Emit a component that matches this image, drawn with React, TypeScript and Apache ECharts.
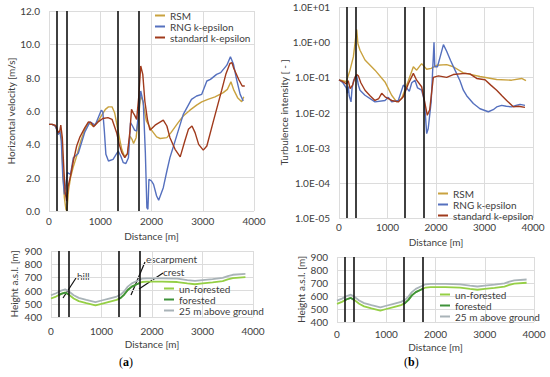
import React, { useEffect, useRef } from "react";
import * as echarts from "echarts";

// ---------- data ----------
const vLines = [150, 350, 1350, 1750];

const velRSM: [number, number][] = [
  [0, 5.2], [60, 5.2], [120, 5.1], [150, 4.9], [180, 4.6], [210, 4.8], [240, 4.5], [270, 2.5], [300, 0.8], [330, 0.1], [350, 0.0], [380, 1.2], [420, 2.0], [470, 2.6], [540, 3.3], [620, 4.2], [700, 4.9], [770, 5.3], [860, 5.1], [940, 5.3], [1030, 5.75], [1100, 6.1], [1160, 6.25], [1230, 6.25], [1280, 5.9], [1330, 5.1], [1380, 4.3], [1420, 3.7], [1470, 3.3], [1530, 3.4], [1580, 4.5], [1620, 4.3], [1650, 4.05], [1700, 4.4], [1740, 5.5], [1790, 6.9], [1830, 6.6], [1900, 5.4], [2000, 4.85], [2100, 4.45], [2170, 4.35], [2300, 4.4], [2380, 4.7], [2520, 5.3], [2620, 5.7], [2750, 6.05], [2880, 6.35], [2980, 6.55], [3100, 6.7], [3240, 6.85], [3400, 7.1], [3480, 7.3], [3550, 7.75], [3600, 7.3], [3680, 6.8], [3760, 6.55], [3800, 6.85],
];
const velRNG: [number, number][] = [
  [0, 5.2], [60, 5.2], [120, 5.1], [150, 4.9], [180, 4.6], [210, 4.8], [240, 4.2], [270, 2.0], [300, 1.0], [330, 1.6], [360, 2.3], [420, 2.2], [475, 3.2], [570, 3.45], [700, 4.75], [800, 5.35], [900, 5.15], [960, 5.6], [1020, 6.05], [1050, 5.95], [1080, 4.8], [1110, 3.4], [1160, 3.0], [1250, 3.1], [1350, 3.6], [1400, 3.3], [1450, 2.9], [1500, 2.85], [1550, 3.2], [1590, 5.3], [1630, 5.1], [1670, 4.85], [1710, 4.8], [1750, 6.0], [1790, 7.2], [1840, 6.5], [1880, 3.5], [1910, 0.2], [1930, 0.1], [1950, 1.9], [2000, 1.8], [2040, 1.6], [2100, 0.9], [2140, 0.65], [2230, 1.4], [2300, 2.4], [2360, 3.2], [2430, 3.9], [2500, 4.6], [2620, 5.8], [2780, 6.7], [2880, 6.9], [2980, 7.0], [3080, 7.8], [3150, 7.9], [3270, 8.2], [3350, 8.3], [3470, 8.75], [3540, 9.25], [3600, 8.8], [3660, 7.9], [3730, 7.0], [3790, 6.6],
];
const velStd: [number, number][] = [
  [0, 5.2], [60, 5.2], [120, 5.15], [150, 5.0], [180, 4.7], [210, 4.8], [230, 5.15], [260, 4.4], [290, 2.5], [315, 1.1], [345, 0.6], [375, 1.5], [420, 2.1], [475, 3.0], [540, 3.9], [605, 4.45], [700, 5.0], [770, 5.35], [820, 5.3], [870, 5.05], [960, 5.35], [1050, 5.55], [1150, 5.6], [1230, 5.5], [1320, 4.7], [1370, 4.0], [1420, 3.5], [1480, 3.2], [1530, 3.45], [1580, 4.8], [1610, 6.1], [1640, 5.9], [1670, 5.75], [1710, 5.5], [1750, 6.8], [1790, 8.7], [1830, 8.2], [1870, 6.6], [1920, 5.5], [1970, 4.85], [2070, 5.15], [2230, 5.45], [2300, 5.1], [2360, 4.4], [2460, 3.7], [2560, 3.25], [2650, 4.2], [2720, 4.9], [2790, 5.1], [2850, 4.7], [2920, 4.0], [3010, 3.65], [3080, 3.9], [3200, 5.3], [3370, 7.25], [3450, 8.2], [3530, 8.85], [3570, 8.9], [3600, 8.6], [3700, 7.9], [3770, 7.5], [3820, 7.5],
];

const tiRSM: [number, number][] = [
  [0, 0.085], [80, 0.08], [150, 0.075], [227, 0.16], [296, 0.38], [340, 1.2], [365, 2.3], [390, 0.9], [433, 0.59], [536, 0.31], [742, 0.16], [948, 0.074], [1086, 0.031], [1189, 0.02], [1292, 0.025], [1430, 0.08], [1533, 0.2], [1601, 0.16], [1704, 0.245], [1808, 0.17], [1900, 0.18], [2014, 0.22], [2220, 0.23], [2357, 0.2], [2564, 0.134], [2907, 0.106], [3251, 0.087], [3560, 0.083], [3766, 0.093], [3855, 0.08],
];
const tiRNG: [number, number][] = [
  [0, 0.085], [80, 0.07], [150, 0.05], [170, 0.035], [193, 0.055], [210, 0.03], [248, 0.02], [270, 0.05], [300, 0.08], [330, 0.1], [365, 0.11], [400, 0.06], [433, 0.043], [536, 0.031], [742, 0.02], [948, 0.022], [1017, 0.027], [1086, 0.02], [1223, 0.022], [1326, 0.06], [1395, 0.05], [1450, 0.04], [1500, 0.07], [1567, 0.083], [1620, 0.05], [1704, 0.043], [1760, 0.022], [1808, 0.0025], [1840, 0.0035], [1900, 0.02], [1935, 0.2], [1959, 1.0], [1975, 0.2], [2030, 0.2], [2090, 0.4], [2153, 0.85], [2220, 0.55], [2300, 0.3], [2392, 0.16], [2494, 0.08], [2564, 0.043], [2632, 0.03], [2770, 0.018], [2907, 0.0128], [3079, 0.0105], [3180, 0.012], [3251, 0.0144], [3354, 0.016], [3450, 0.015], [3560, 0.0145], [3650, 0.016], [3732, 0.017], [3835, 0.016],
];
const tiStd: [number, number][] = [
  [0, 0.085], [80, 0.075], [150, 0.065], [190, 0.08], [230, 0.048], [280, 0.06], [330, 0.1], [365, 0.12], [400, 0.11], [450, 0.07], [536, 0.043], [640, 0.03], [742, 0.022], [820, 0.025], [880, 0.035], [950, 0.028], [1086, 0.022], [1223, 0.02], [1326, 0.028], [1430, 0.066], [1533, 0.13], [1601, 0.083], [1704, 0.054], [1773, 0.018], [1821, 0.0083], [1870, 0.012], [1945, 0.1], [2050, 0.11], [2220, 0.1], [2357, 0.12], [2598, 0.13], [2700, 0.125], [2839, 0.093], [3010, 0.085], [3130, 0.06], [3251, 0.043], [3360, 0.03], [3457, 0.022], [3594, 0.0145], [3700, 0.015], [3835, 0.014],
];

const hUnforested: [number, number][] = [
  [0, 540], [100, 555], [200, 575], [280, 585], [350, 570], [450, 540], [550, 520], [700, 505], [880, 488], [1000, 500], [1150, 515], [1300, 530], [1380, 545], [1450, 570], [1520, 605], [1600, 630], [1700, 648], [1800, 665], [1900, 668], [2200, 668], [2500, 665], [2700, 655], [2850, 648], [3000, 655], [3200, 662], [3400, 672], [3500, 685], [3600, 695], [3850, 702],
];
const hForested: ([number, number] | null)[] = [
  [150, 565], [200, 575], [280, 585], [350, 570], null,
  [1350, 538], [1380, 545], [1450, 570], [1520, 605], [1600, 630], [1700, 648], [1750, 657],
];
const h25m: [number, number][] = [
  [0, 565], [100, 580], [200, 600], [280, 610], [350, 595], [450, 565], [550, 545], [700, 530], [880, 513], [1000, 525], [1150, 540], [1300, 555], [1380, 570], [1450, 595], [1520, 630], [1600, 655], [1700, 673], [1800, 690], [1900, 693], [2200, 693], [2500, 690], [2700, 680], [2850, 673], [3000, 680], [3200, 687], [3400, 697], [3500, 710], [3600, 720], [3850, 727],
];

const modelNames = ["RSM", "RNG k-epsilon", "standard k-epsilon"];
const terrainNames = ["un-forested", "forested", "25 m above ground"];

// ---------- styles ----------
const FONT = "Lato";
const C_RSM = "#C9A23F";
const C_RNG = "#5570BE";
const C_STD = "#A03A1C";
const C_UNF = "#95CF45";
const C_FOR = "#3E923A";
const C_25 = "#A9B3B8";
const TXT = "#404040";
const GRID = "#DCDCDC";

function xAx(gridIndex: number, labelMargin: number, nameGap: number) {
  return {
    type: "value", gridIndex, min: 0, max: 4000, interval: 1000,
    axisLine: { show: false }, axisTick: { show: false },
    splitLine: { show: true, lineStyle: { color: GRID, width: 1 } },
    axisLabel: { color: TXT, fontSize: 10, fontFamily: FONT, margin: labelMargin, formatter: (v: number) => String(v) },
    name: "Distance [m]", nameLocation: "middle", nameGap,
    nameTextStyle: { color: TXT, fontSize: 10, fontFamily: FONT },
  };
}

function yAx(gridIndex: number, name: string, nameGap: number, extra: any) {
  return {
    gridIndex,
    axisLine: { show: false }, axisTick: { show: false },
    splitLine: { show: true, lineStyle: { color: GRID, width: 1 } },
    name, nameLocation: "middle", nameGap,
    nameTextStyle: { color: TXT, fontSize: 10, fontFamily: FONT },
    ...extra,
    axisLabel: { color: TXT, fontSize: 10, fontFamily: FONT, margin: 9, formatter: (v: number) => String(v), ...(extra.axisLabel || {}) },
  };
}

const markV = {
  silent: true, symbol: "none", label: { show: false },
  lineStyle: { color: "#111", width: 1.6, type: "solid" },
  data: vLines.map((x) => ({ xAxis: x })),
};

function line(name: string, color: string, data: any, xi: number, yi: number, withMark = false, width = 1.4) {
  const s: any = {
    type: "line", name, data, xAxisIndex: xi, yAxisIndex: yi,
    showSymbol: false, symbol: "none", connectNulls: false,
    lineStyle: { color, width }, itemStyle: { color },
  };
  if (withMark) s.markLine = markV;
  return s;
}

function legend(names: string[], left: number, top: number) {
  return {
    orient: "vertical", left, top, data: names, icon: "rect",
    itemWidth: 10, itemHeight: 2, itemGap: 0, padding: 0,
    selectedMode: false,
    textStyle: { color: TXT, fontSize: 10, fontFamily: FONT, lineHeight: 11 },
  };
}

function sciFmt(v: number) {
  const e = Math.round(Math.log10(v));
  return "1.0E" + (e >= 0 ? "+" : "-") + String(Math.abs(e)).padStart(2, "0");
}

export default function App() {
  const ref = useRef<HTMLDivElement>(null);
  useEffect(() => {
    if (!ref.current) return;
    const chart = echarts.init(ref.current, undefined, { renderer: "svg" });
    const option: any = {
      animation: false,
      backgroundColor: "#fff",
      textStyle: { fontFamily: FONT },
      grid: [
        { left: 49, top: 11, width: 205, height: 200 },
        { left: 339, top: 7, width: 194, height: 211 },
        { left: 51, top: 251, width: 202, height: 66 },
        { left: 337, top: 257, width: 197, height: 65 },
      ],
      xAxis: [xAx(0, 5, 17), xAx(1, 4, 12), xAx(2, 9, 22), xAx(3, 7, 20)],
      yAxis: [
        yAx(0, "Horizontal velocity [m/s]", 29, { type: "value", min: 0, max: 12, interval: 2, axisLabel: { formatter: (v: number) => v.toFixed(1) } }),
        yAx(1, "Turbulence intensity [ - ]", 44, { type: "log", logBase: 10, min: 1e-5, max: 10, axisLabel: { formatter: sciFmt } }),
        yAx(2, "Height a.s.l. [m]", 32, { type: "value", min: 400, max: 900, interval: 100 }),
        yAx(3, "Height a.s.l. [m]", 31, { type: "value", min: 400, max: 900, interval: 100 }),
      ],
      legend: [
        legend(modelNames, 155, 10),
        legend(modelNames, 438, 188),
        legend(terrainNames, 164, 283),
        legend(terrainNames, 440, 289),
      ],
      series: [
        line("RSM", C_RSM, velRSM, 0, 0, true),
        line("RNG k-epsilon", C_RNG, velRNG, 0, 0),
        line("standard k-epsilon", C_STD, velStd, 0, 0),
        line("RSM", C_RSM, tiRSM, 1, 1, true),
        line("RNG k-epsilon", C_RNG, tiRNG, 1, 1),
        line("standard k-epsilon", C_STD, tiStd, 1, 1),
        line("25 m above ground", C_25, h25m, 2, 2, true, 1.8),
        line("un-forested", C_UNF, hUnforested, 2, 2, false, 1.8),
        line("forested", C_FOR, hForested, 2, 2, false, 1.8),
        line("25 m above ground", C_25, h25m, 3, 3, true, 1.8),
        line("un-forested", C_UNF, hUnforested, 3, 3, false, 1.8),
        line("forested", C_FOR, hForested, 3, 3, false, 1.8),
      ],
      graphic: [
        { type: "line", shape: { x1: 63, y1: 298, x2: 76, y2: 278 }, style: { stroke: "#111", lineWidth: 1.2 } },
        { type: "text", left: 77, top: 271, style: { text: "hill", fill: TXT, font: `10px ${FONT}` } },
        { type: "line", shape: { x1: 131, y1: 295, x2: 145, y2: 262 }, style: { stroke: "#111", lineWidth: 1.2 } },
        { type: "text", left: 146, top: 254, style: { text: "escarpment", fill: TXT, font: `10px ${FONT}` } },
        { type: "line", shape: { x1: 139, y1: 289, x2: 163, y2: 273 }, style: { stroke: "#111", lineWidth: 1.2 } },
        { type: "text", left: 163, top: 267, style: { text: "crest", fill: TXT, font: `10px ${FONT}` } },
        {
          type: "text", left: 119, top: 356,
          style: { text: "({b|a})", fill: "#000", font: "12px 'Liberation Serif'", rich: { b: { fontWeight: "bold", fontSize: 12, fontFamily: "Liberation Serif", fill: "#000" } } },
        },
        {
          type: "text", left: 404, top: 356,
          style: { text: "({b|b})", fill: "#000", font: "12px 'Liberation Serif'", rich: { b: { fontWeight: "bold", fontSize: 12, fontFamily: "Liberation Serif", fill: "#000" } } },
        },
      ],
    };
    chart.setOption(option);
    return () => chart.dispose();
  }, []);
  return <div ref={ref} style={{ position: "fixed", left: 0, top: 0, width: 550, height: 377 }} />;
}
